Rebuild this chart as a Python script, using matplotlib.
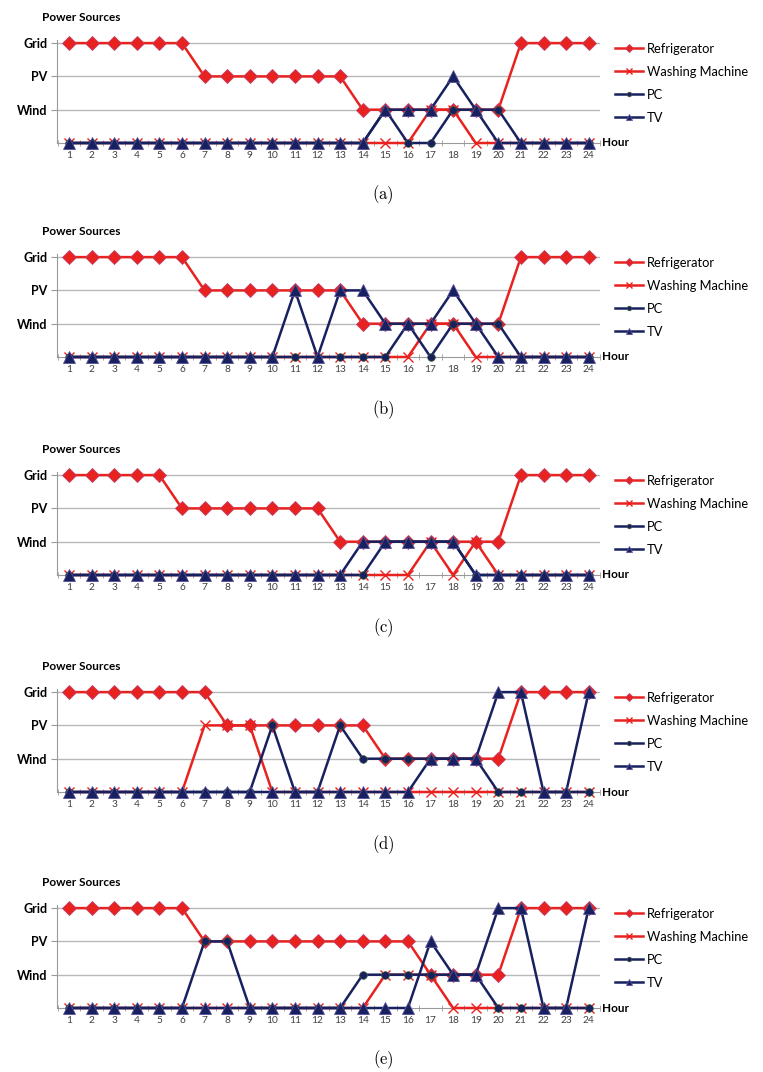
import numpy as np
import matplotlib
matplotlib.use("Agg")
import matplotlib.pyplot as plt

plt.rcParams['font.family'] = ['Lato', 'DejaVu Sans']
plt.rcParams['mathtext.fontset'] = 'cm'

hours = list(range(1, 25))
levels = [1, 2, 3]
level_labels = ["Wind", "PV", "Grid"]
series_names = ["Refrigerator", "Washing Machine", "PC", "TV"]
captions = ["(a)", "(b)", "(c)", "(d)", "(e)"]

# 0 = off, 1 = Wind, 2 = PV, 3 = Grid
fridge_a = [3, 3, 3, 3, 3, 3, 2, 2, 2, 2, 2, 2, 2, 1, 1, 1, 1, 1, 1, 1, 3, 3, 3, 3]
wm_a     = [0, 0, 0, 0, 0, 0, 0, 0, 0, 0, 0, 0, 0, 0, 0, 0, 1, 1, 0, 0, 0, 0, 0, 0]
pc_a     = [0, 0, 0, 0, 0, 0, 0, 0, 0, 0, 0, 0, 0, 0, 1, 0, 0, 1, 1, 1, 0, 0, 0, 0]
tv_a     = [0, 0, 0, 0, 0, 0, 0, 0, 0, 0, 0, 0, 0, 0, 1, 1, 1, 2, 1, 0, 0, 0, 0, 0]

fridge_b = [3, 3, 3, 3, 3, 3, 2, 2, 2, 2, 2, 2, 2, 1, 1, 1, 1, 1, 1, 1, 3, 3, 3, 3]
wm_b     = [0, 0, 0, 0, 0, 0, 0, 0, 0, 0, 0, 0, 0, 0, 0, 0, 1, 1, 0, 0, 0, 0, 0, 0]
pc_b     = [0, 0, 0, 0, 0, 0, 0, 0, 0, 0, 0, 0, 0, 0, 0, 1, 0, 1, 1, 1, 0, 0, 0, 0]
tv_b     = [0, 0, 0, 0, 0, 0, 0, 0, 0, 0, 2, 0, 2, 2, 1, 1, 1, 2, 1, 0, 0, 0, 0, 0]

fridge_c = [3, 3, 3, 3, 3, 2, 2, 2, 2, 2, 2, 2, 1, 1, 1, 1, 1, 1, 1, 1, 3, 3, 3, 3]
wm_c     = [0, 0, 0, 0, 0, 0, 0, 0, 0, 0, 0, 0, 0, 0, 0, 0, 1, 0, 1, 0, 0, 0, 0, 0]
pc_c     = [0, 0, 0, 0, 0, 0, 0, 0, 0, 0, 0, 0, 0, 0, 1, 1, 1, 1, 0, 0, 0, 0, 0, 0]
tv_c     = [0, 0, 0, 0, 0, 0, 0, 0, 0, 0, 0, 0, 0, 1, 1, 1, 1, 1, 0, 0, 0, 0, 0, 0]

fridge_d = [3, 3, 3, 3, 3, 3, 3, 2, 2, 2, 2, 2, 2, 2, 1, 1, 1, 1, 1, 1, 3, 3, 3, 3]
wm_d     = [0, 0, 0, 0, 0, 0, 2, 2, 2, 0, 0, 0, 0, 0, 0, 0, 0, 0, 0, 0, 0, 0, 0, 0]
pc_d     = [0, 0, 0, 0, 0, 0, 0, 0, 0, 2, 0, 0, 2, 1, 1, 1, 1, 1, 1, 0, 0, 0, 0, 0]
tv_d     = [0, 0, 0, 0, 0, 0, 0, 0, 0, 0, 0, 0, 0, 0, 0, 0, 1, 1, 1, 3, 3, 0, 0, 3]

fridge_e = [3, 3, 3, 3, 3, 3, 2, 2, 2, 2, 2, 2, 2, 2, 2, 2, 1, 1, 1, 1, 3, 3, 3, 3]
wm_e     = [0, 0, 0, 0, 0, 0, 0, 0, 0, 0, 0, 0, 0, 0, 1, 1, 1, 0, 0, 0, 0, 0, 0, 0]
pc_e     = [0, 0, 0, 0, 0, 0, 2, 2, 0, 0, 0, 0, 0, 1, 1, 1, 1, 1, 1, 0, 0, 0, 0, 0]
tv_e     = [0, 0, 0, 0, 0, 0, 0, 0, 0, 0, 0, 0, 0, 0, 0, 0, 2, 1, 1, 3, 3, 0, 0, 3]

panels = [
    (fridge_a, wm_a, pc_a, tv_a),
    (fridge_b, wm_b, pc_b, tv_b),
    (fridge_c, wm_c, pc_c, tv_c),
    (fridge_d, wm_d, pc_d, tv_d),
    (fridge_e, wm_e, pc_e, tv_e),
]

red = '#e8221e'
navy = '#18215f'
grey = '#b8b8b8'
styles = [
    dict(color=red, marker='D', ms=7.5, mec='#c2406a', mew=0.6),
    dict(color=red, marker='x', ms=6.5, mew=1.0),
    dict(color=navy, marker='o', ms=5.5, mec='#3b5a3b', mew=0.5),
    dict(color=navy, marker='^', ms=8, mec='#5a4f9a', mew=0.6),
]

W, H = 763, 1072
fig = plt.figure(figsize=(W / 100, H / 100), dpi=100)

zero_px = [143, 357, 575, 792, 1008]
cap_px = [195, 410, 628, 845, 1060]
unit = 33.3
left, right = 57, 600

for i, data in enumerate(panels):
    y0 = zero_px[i]
    top = y0 - 3.1 * unit
    ax = fig.add_axes([left / W, 1 - y0 / H, (right - left) / W, (y0 - top) / H])
    ax.set_xlim(0.47, 24.5)
    ax.set_ylim(0, 3.1)

    for lv in levels:
        ax.axhline(lv, color=grey, lw=1, zorder=0)

    lines = []
    for vals, name, st in zip(data, series_names, styles):
        ln, = ax.plot(hours, vals, lw=1.8, label=name, clip_on=False, zorder=3, **st)
        lines.append(ln)

    for s in ['top', 'right']:
        ax.spines[s].set_visible(False)
    ax.spines['left'].set_color('#9a9a9a')
    ax.spines['bottom'].set_color('#9a9a9a')

    ax.set_yticks(levels)
    ax.set_yticklabels(level_labels, fontsize=9, fontweight='bold')
    ax.tick_params(axis='y', length=4, color='#9a9a9a', pad=3)
    ax.set_xticks(hours)
    ax.set_xticklabels([str(h) for h in hours], fontsize=7.3, color='#404040')
    ax.tick_params(axis='x', length=0, pad=6)
    ax.set_xticks(np.arange(0.5, 25, 1), minor=True)
    ax.tick_params(axis='x', which='minor', length=5, direction='inout', color='#9a9a9a')

    ax.text(-0.027, 3.76, "Power Sources", transform=ax.get_yaxis_transform(),
            fontsize=8.5, fontweight='bold', ha='left', va='center')
    ax.text(1.004, 0, "Hour", transform=ax.get_yaxis_transform(),
            fontsize=8.5, fontweight='bold', ha='left', va='center')

    ax.legend(handles=lines, loc='upper left',
              bbox_to_anchor=(615 / W, 1 - (y0 - 100) / H),
              bbox_transform=fig.transFigure, frameon=False, fontsize=9.3,
              handlelength=2.2, handletextpad=0.25, labelspacing=0.85,
              borderpad=0, borderaxespad=0, markerscale=0.6)

    fig.text(383 / W, 1 - cap_px[i] / H, r'$\mathrm{' + captions[i] + '}$',
             ha='center', va='center', fontsize=12)

fig.savefig("out.png", dpi=100)
